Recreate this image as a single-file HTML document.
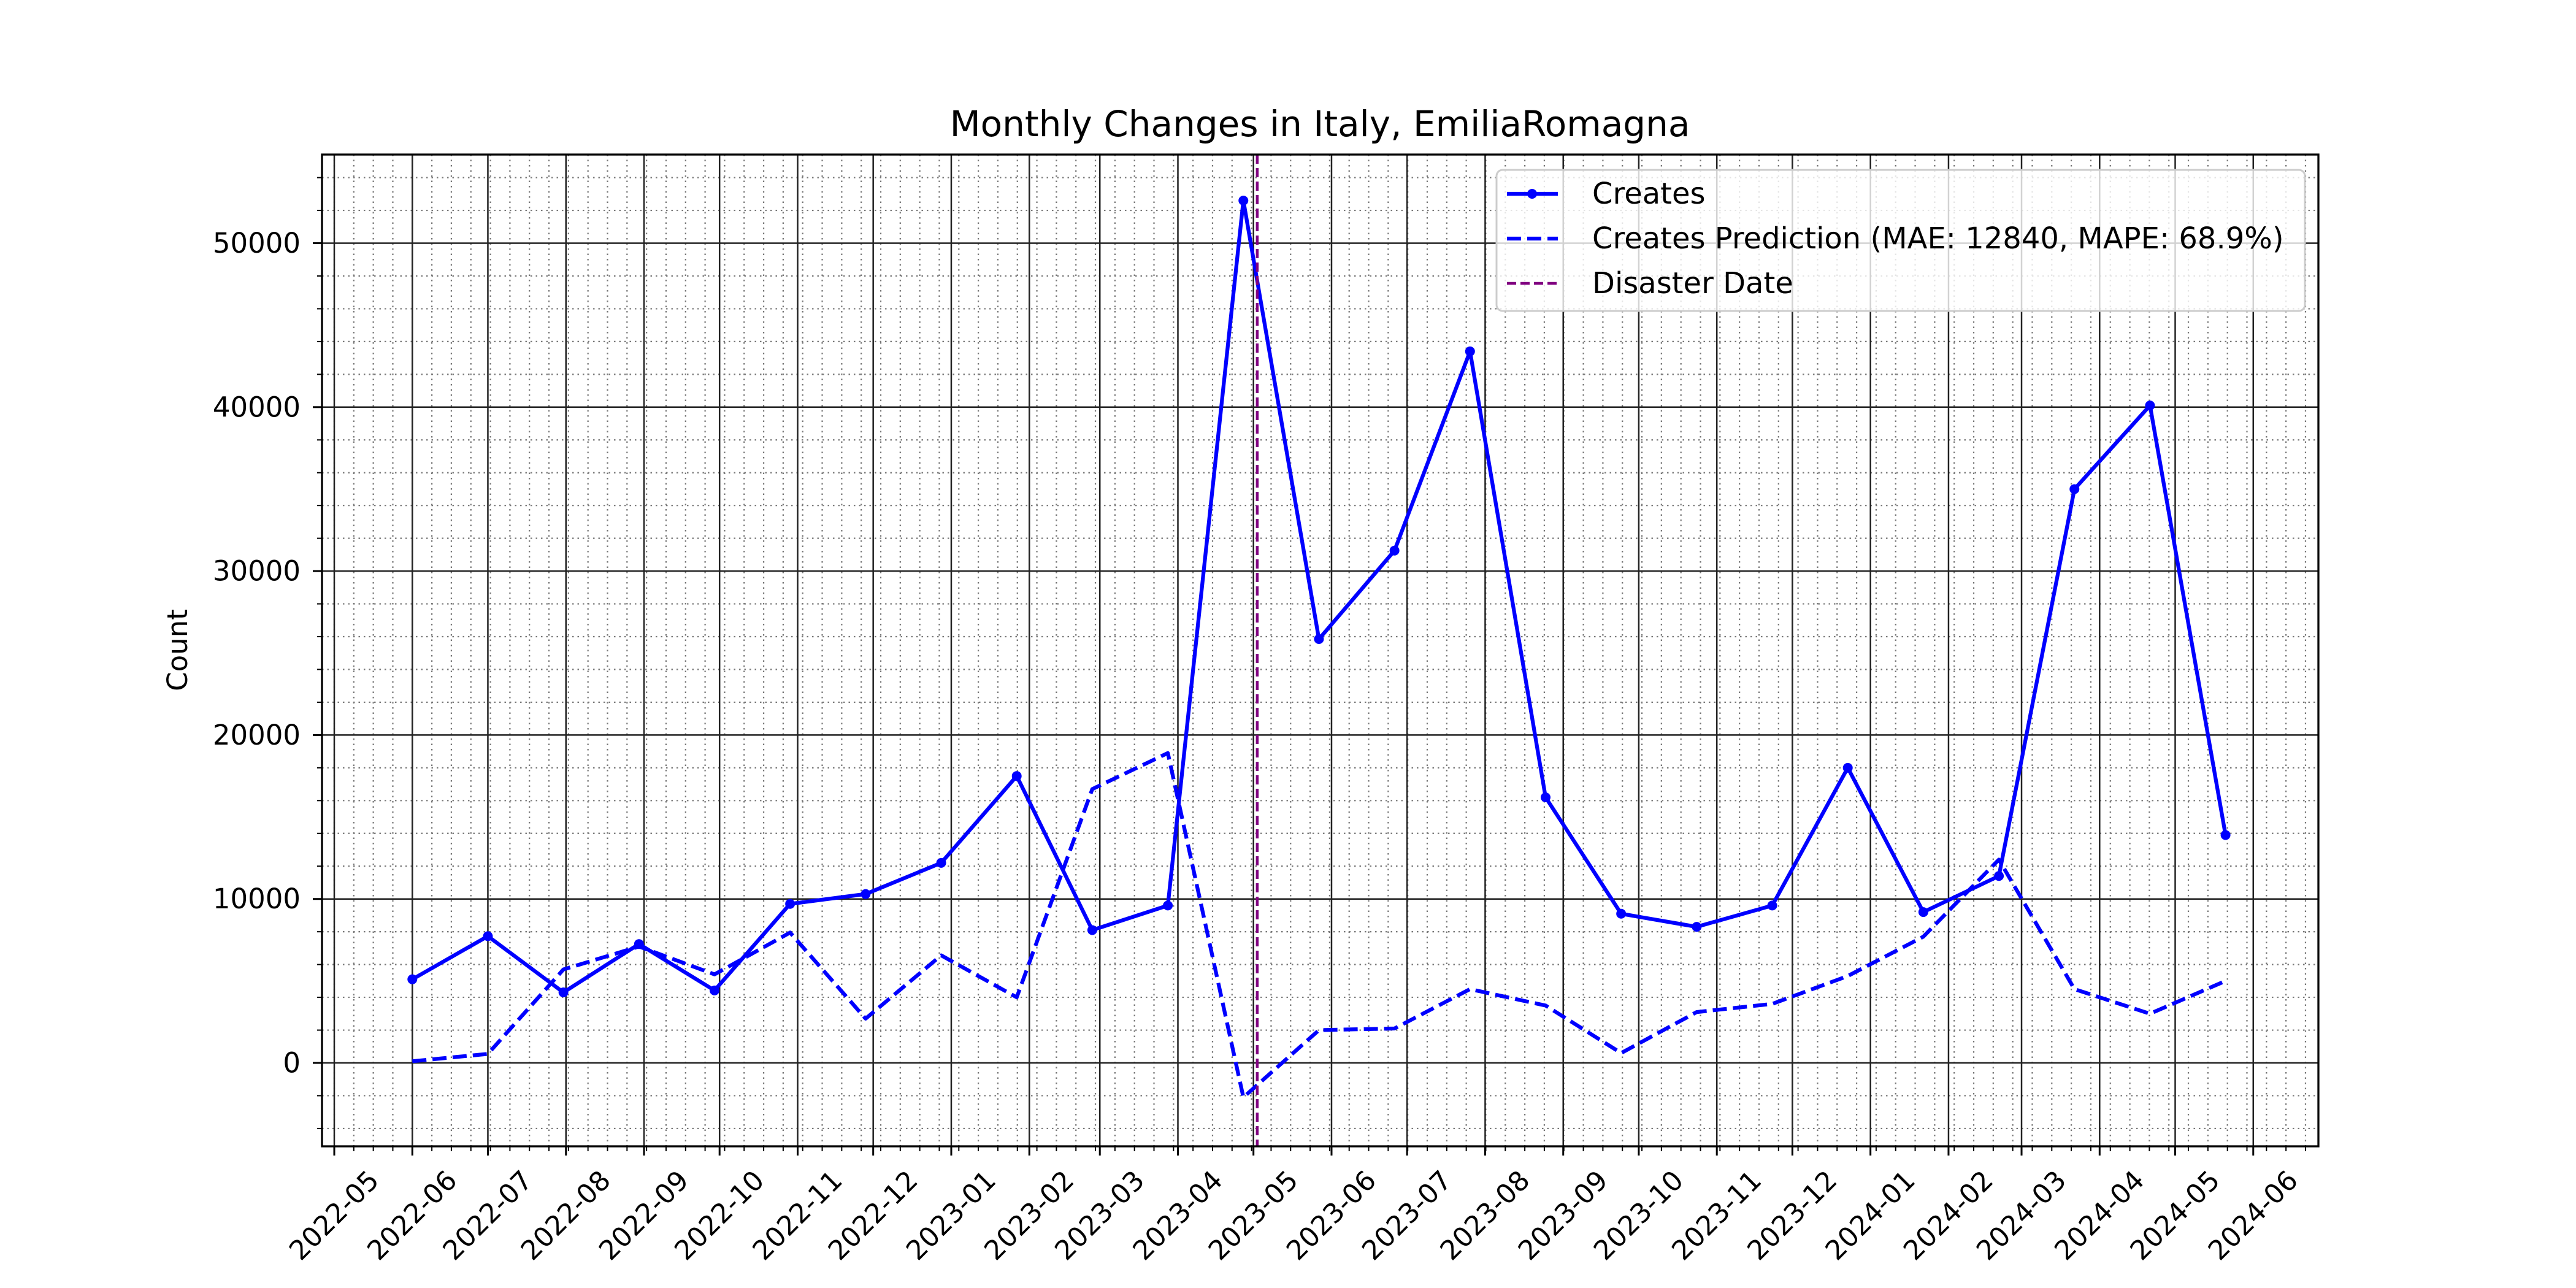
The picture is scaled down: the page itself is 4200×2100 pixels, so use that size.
<!DOCTYPE html>
<html><head><meta charset="utf-8"><style>
html,body{margin:0;padding:0;background:#fff;}
svg{display:block;font-family:"DejaVu Sans","Liberation Sans",sans-serif;}
</style></head><body>
<svg id="chart" width="4200" height="2100" viewBox="0 0 4200 2100" xmlns="http://www.w3.org/2000/svg">
<rect x="0" y="0" width="4200" height="2100" fill="#fff"/>
<g id="grid"></g>
<g id="series"></g>
<g id="axes"></g>
<g id="legend"></g>
<text x="2152" y="222" text-anchor="middle" font-size="58">Monthly Changes in Italy, EmiliaRomagna</text>
<text transform="translate(305,1060) rotate(-90)" text-anchor="middle" font-size="45">Count</text>
</svg>
<script>
const startDate = "2022-06-01";
const stepDays = 30;
const creates = [5100,7730,4300,7250,4420,9700,10300,12200,17500,8100,9600,52600,25850,31250,43400,16200,9100,8300,9600,18000,9200,11400,35000,40100,13900];
const predictions = [100,550,5700,7100,5400,7950,2700,6560,4000,16700,18900,-2100,2000,2100,4500,3500,600,3100,3600,5300,7700,12400,4500,3000,5000];
const disasterDate = "2023-05-02T12:00:00Z";
const yTicks = [0,10000,20000,30000,40000,50000];
const xTickLabels = ["2022-05","2022-06","2022-07","2022-08","2022-09","2022-10","2022-11","2022-12","2023-01","2023-02","2023-03","2023-04","2023-05","2023-06","2023-07","2023-08","2023-09","2023-10","2023-11","2023-12","2024-01","2024-02","2024-03","2024-04","2024-05","2024-06"];

const NS="http://www.w3.org/2000/svg";
const L=525,R=3780,T=252,B=1869;
const base=Date.UTC(2022,4,1);
const dayOf=s=>(Date.parse(s.length<=10?s+"T00:00:00Z":s)-base)/86400000;
const X=d=>545+d*4.106;
const Y=v=>1733-v*0.02673;
function mk(tag,attrs,parent){const e=document.createElementNS(NS,tag);for(const k in attrs)e.setAttribute(k,attrs[k]);parent.appendChild(e);return e;}
const grid=document.getElementById('grid'),axes=document.getElementById('axes'),series=document.getElementById('series'),legend=document.getElementById('legend');

const mstep=31/4;
for(let k=-1;k<110;k++){const d=k*mstep;const x=X(d);if(x<L||x>R)continue;
 const g=mk('line',{x1:x,x2:x,y1:T,y2:B,stroke:'#777','stroke-width':2.2,'stroke-dasharray':'2.5,6'},grid);
 
 
 const t=mk('line',{x1:x,x2:x,y1:B,y2:B+8,stroke:'#000','stroke-width':2},axes);
 
 }
for(let v=-4000;v<=54000;v+=2000){if(v%10000===0)continue;const y=Y(v);
 const g=mk('line',{x1:L,x2:R,y1:y,y2:y,stroke:'#777','stroke-width':2.2,'stroke-dasharray':'2.5,6'},grid);
 
 
 const t=mk('line',{x1:L-8,x2:L,y1:y,y2:y,stroke:'#000','stroke-width':2},axes);
 
 }
xTickLabels.forEach(lab=>{const x=X(dayOf(lab+"-01"));
 const g=mk('line',{x1:x,x2:x,y1:T,y2:B,stroke:'#222','stroke-width':2.5},grid);
 
 
 const t=mk('line',{x1:x,x2:x,y1:B,y2:B+15,stroke:'#000','stroke-width':3},axes);
 
 
 const tx=mk('text',{x:0,y:0,'font-size':44,'text-anchor':'middle','dominant-baseline':'central',transform:`translate(${x},1982) rotate(-45)`},axes);
 tx.textContent=lab;
 
 });
yTicks.forEach(v=>{const y=Y(v);
 const g=mk('line',{x1:L,x2:R,y1:y,y2:y,stroke:'#222','stroke-width':2.5},grid);
 
 
 const t=mk('line',{x1:L-15,x2:L,y1:y,y2:y,stroke:'#000','stroke-width':3},axes);
 
 
 const tx=mk('text',{x:490,y:y,'font-size':45,'text-anchor':'end','dominant-baseline':'central'},axes);
 tx.textContent=String(v);
 
 });
const sp=mk('rect',{x:L,y:T,width:R-L,height:B-T,fill:'none',stroke:'#000','stroke-width':3.3},axes);



const s0=dayOf(startDate);
const px=i=>X(s0+i*stepDays);
const pp=predictions.map((v,i)=>px(i)+','+Y(v)).join(' ');
const pl=mk('polyline',{points:pp,fill:'none',stroke:'#0000ff','stroke-width':6.25,'stroke-dasharray':'23,10','stroke-linejoin':'round'},series);


const cp=creates.map((v,i)=>px(i)+','+Y(v)).join(' ');
const cl=mk('polyline',{points:cp,fill:'none',stroke:'#0000ff','stroke-width':6.25,'stroke-linejoin':'round'},series);


creates.forEach((v,i)=>{const c=mk('circle',{cx:px(i),cy:Y(v),r:8,fill:'#0000ff'},series);
 
 });
const dx=X(dayOf(disasterDate));
const dl=mk('line',{x1:dx,x2:dx,y1:T,y2:B,stroke:'#800080','stroke-width':4.5,'stroke-dasharray':'15,7'},series);



const lf=mk('rect',{x:2440,y:277,width:1318,height:230,rx:10,fill:'#fff','fill-opacity':0.8,stroke:'#ccc','stroke-width':3},legend);


const rows=[{y:316,t:'Creates',s:'#0000ff',d:'',m:true,n:'legend-entry-creates'},
 {y:389,t:'Creates Prediction (MAE: 12840, MAPE: 68.9%)',s:'#0000ff',d:'23,10',m:false,n:'legend-entry-prediction'},
 {y:462,t:'Disaster Date',s:'#800080',d:'15,7',m:false,n:'legend-entry-disaster'}];
rows.forEach(r=>{const g=mk('g',{},legend);
 
 
 mk('line',{x1:2457,x2:2540,y1:r.y,y2:r.y,stroke:r.s,'stroke-width':r.n==='legend-entry-disaster'?4.5:6.25,'stroke-dasharray':r.d},g);
 if(r.m)mk('circle',{cx:2498,cy:r.y,r:8,fill:r.s},g);
 const t=mk('text',{x:2596,y:r.y,'font-size':48,'dominant-baseline':'central'},g);t.textContent=r.t;});
</script>
</body></html>
